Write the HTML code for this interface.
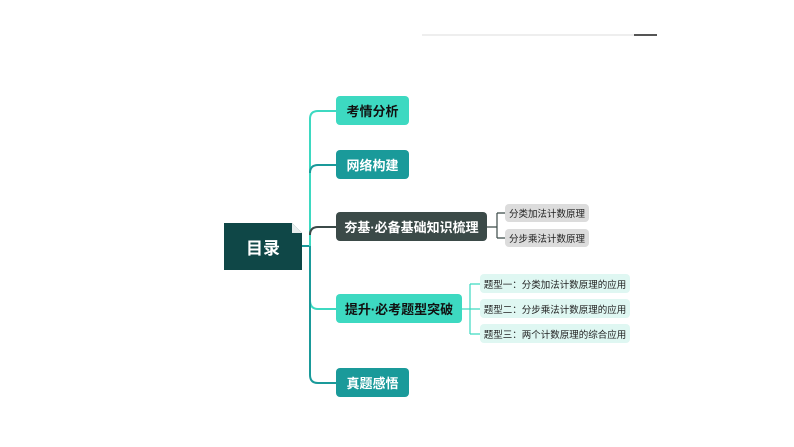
<!DOCTYPE html>
<html><head><meta charset="utf-8"><style>
body{margin:0;width:794px;height:447px;background:#fff;overflow:hidden;font-family:"Liberation Sans","Noto Sans CJK SC",sans-serif;}
.b{position:absolute;border-radius:4px;display:flex;align-items:center;justify-content:center;font-weight:bold;font-size:13px;}
.s{position:absolute;border-radius:4px;display:flex;align-items:center;justify-content:center;font-size:9.5px;color:#222;}
</style></head><body>
<svg width="794" height="447" style="position:absolute;left:0;top:0">
<line x1="422" y1="35" x2="635" y2="35" stroke="#eeeeee" stroke-width="2"/>
<line x1="634" y1="35" x2="657" y2="35" stroke="#555" stroke-width="2"/>
<g fill="none" stroke-width="2">
<path d="M302 246 H310" stroke="#1a9a9a"/>
<path d="M336 111 H318 Q310 111 310 119 V246" stroke="#3dd9c1"/>
<path d="M336 165 H318 Q310 165 310 173" stroke="#1a9a9a"/>
<path d="M336 227 H318 Q310 227 310 235" stroke="#3b4a48"/>
<path d="M310 246 V300 Q310 309 318 309 H336" stroke="#3dd9c1"/>
<path d="M310 246 V375 Q310 383 318 383 H336" stroke="#1a9a9a"/>
<path d="M487 227 H497 M497 213 V238 M497 213 H505 M497 238 H505" stroke="#3b4a48" stroke-width="1.2"/>
<path d="M462 309 H470 M470 284 V334 M470 284 H480 M470 309 H480 M470 334 H480" stroke="#3dd9c1" stroke-width="1.2"/>
</g>
<path d="M224 223 H292 L302 233 V270 H224 Z" fill="#0f4747"/>
<path d="M292 223 L302 233 H292 Z" fill="#ffffff" opacity="0.9"/>
</svg>
<div class="b" style="left:224px;top:223px;width:78px;height:47px;color:#fff;font-size:17px;background:none">目录</div>
<div class="b" style="left:336px;top:96px;width:73px;height:29px;background:#3dd9c1;color:#111">考情分析</div>
<div class="b" style="left:336px;top:150px;width:73px;height:29px;background:#1a9a9a;color:#fff">网络构建</div>
<div class="b" style="left:336px;top:212px;width:151px;height:29px;background:#3b4a48;color:#fff">夯基·必备基础知识梳理</div>
<div class="b" style="left:336px;top:294px;width:126px;height:29px;background:#3dd9c1;color:#111">提升·必考题型突破</div>
<div class="b" style="left:336px;top:368px;width:73px;height:29px;background:#1a9a9a;color:#fff">真题感悟</div>
<div class="s" style="left:505px;top:204px;width:84px;height:18px;background:#dcdcdc">分类加法计数原理</div>
<div class="s" style="left:505px;top:229px;width:84px;height:18px;background:#dcdcdc">分步乘法计数原理</div>
<div class="s" style="left:480px;top:274px;width:150px;height:19px;background:#dff7f2">题型一：分类加法计数原理的应用</div>
<div class="s" style="left:480px;top:299px;width:150px;height:19px;background:#dff7f2">题型二：分步乘法计数原理的应用</div>
<div class="s" style="left:480px;top:324px;width:150px;height:19px;background:#dff7f2">题型三：两个计数原理的综合应用</div>
</body></html>
